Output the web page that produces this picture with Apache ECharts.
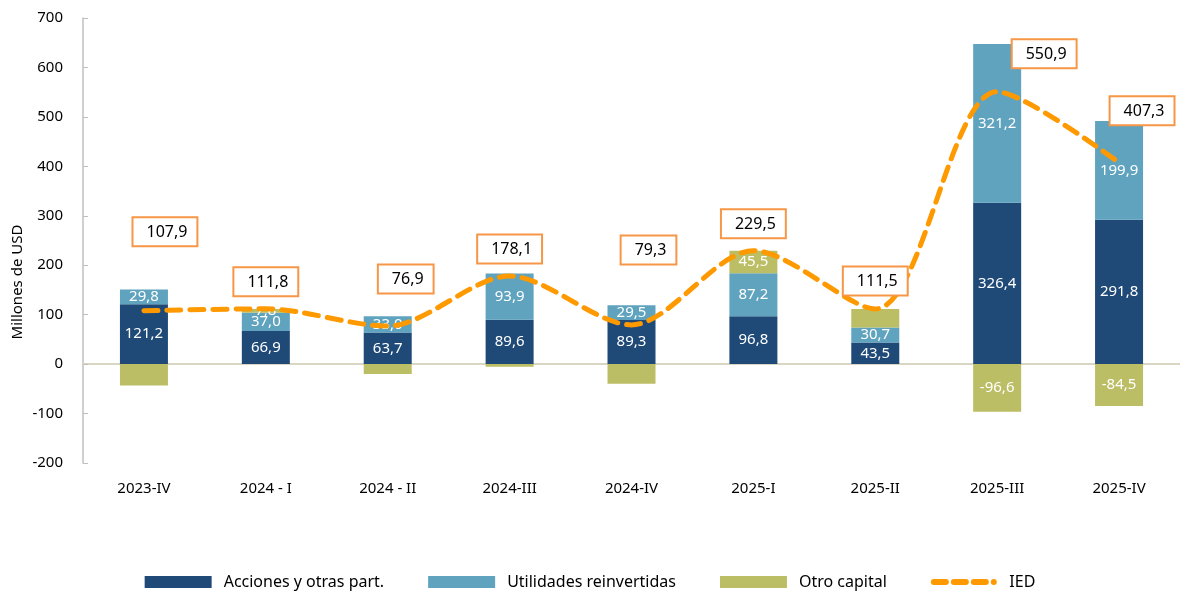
<!DOCTYPE html>
<html>
<head>
<meta charset="utf-8">
<script src="https://cdn.jsdelivr.net/npm/echarts@6/dist/echarts.min.js"></script>
<style>
  html, body { margin: 0; padding: 0; background: #fff; }
  #chart { width: 1180px; height: 593px; }
</style>
</head>
<body>
<div id="chart"></div>
<script>
const categories = ['2023-IV', '2024 - I', '2024 - II', '2024-III', '2024-IV', '2025-I', '2025-II', '2025-III', '2025-IV']
const acciones = [121.2, 66.9, 63.7, 89.6, 89.3, 96.8, 43.5, 326.4, 291.8]
const utilidades = [29.8, 37.0, 33.0, 93.9, 29.5, 87.2, 30.7, 321.2, 199.9]
const otroCapital = [-43.1, 7.8, -19.8, -5.4, -39.5, 45.5, 37.3, -96.6, -84.5]
const ied = [107.9, 111.8, 76.9, 178.1, 79.3, 229.5, 111.5, 550.9, 407.3]

// which "Otro capital" segments carry a label in the original
const otroLabelShown = [1, 5, 7, 8]
// where the IED boxes sit relative to their points
const iedLabelOffsets = [[21, -60], [0, -8], [18, -28], [0, -8], [17, -56], [0, -8], [0, -9], [47, -19], [23, -33]]

const font = 'Noto Sans'
const fmt = v => v.toFixed(1).replace('.', ',')

// dashed legend icon for the IED line (three dashes and a dot)
const dashIcon = 'path://M0,0h0.01v0.01h-0.01Z M0,12h0.01v0.01h-0.01Z ' +
  'M3,3h12a3,3 0 0 1 0,6h-12a3,3 0 0 1 0,-6Z M23,3h12a3,3 0 0 1 0,6h-12a3,3 0 0 1 0,-6Z ' +
  'M43,3h12a3,3 0 0 1 0,6h-12a3,3 0 0 1 0,-6Z M63,3a3,3 0 0 1 0,6a3,3 0 0 1 0,-6Z'

const barLabel = {
  show: true,
  position: 'inside',
  color: '#fff',
  fontFamily: font,
  fontSize: 15,
  formatter: p => fmt(p.value)
}

const chart = echarts.init(document.getElementById('chart'))
chart.setOption({
  animation: false,
  grid: { left: 83, right: 0, top: 18, bottom: 130 },
  legend: {
    top: 574,
    left: 'center',
    padding: 0,
    itemWidth: 67,
    itemHeight: 12,
    itemGap: 44,
    textStyle: { fontFamily: font, fontSize: 16, color: '#000', padding: [0, 0, 0, 7] },
    data: [
      { name: 'Acciones y otras part.', icon: 'rect' },
      { name: 'Utilidades reinvertidas', icon: 'rect' },
      { name: 'Otro capital', icon: 'rect' },
      { name: 'IED', icon: dashIcon }
    ]
  },
  xAxis: [{
    type: 'category',
    data: categories,
    position: 'bottom',
    axisLine: { show: false, onZero: false },
    axisTick: { show: false },
    axisLabel: { fontFamily: font, fontSize: 15, color: '#000', margin: 18 }
  }, {
    type: 'category',
    data: categories,
    position: 'bottom',
    axisLine: { onZero: true, lineStyle: { color: '#d9d6c3', width: 2 } },
    axisTick: { inside: true, length: 5, lineStyle: { color: '#d9d6c3', width: 2 } },
    axisLabel: { show: false }
  }],
  yAxis: {
    type: 'value',
    min: -200,
    max: 700,
    interval: 100,
    splitLine: { show: false },
    axisLine: { show: true, lineStyle: { color: '#bfbfbf', width: 1.5 } },
    axisTick: { show: true, inside: true, length: 5, lineStyle: { color: '#bfbfbf' } },
    axisLabel: { fontFamily: font, fontSize: 15, color: '#000', margin: 20 }
  },
  graphic: [{
    type: 'text',
    x: 18,
    y: 282,
    rotation: Math.PI / 2,
    style: {
      text: 'Millones de USD',
      fontFamily: font,
      fontSize: 15,
      fill: '#000',
      align: 'center',
      verticalAlign: 'middle'
    }
  }],
  series: [{
    name: 'Acciones y otras part.',
    type: 'bar',
    stack: 'ied',
    barWidth: 48,
    itemStyle: { color: '#1f4a78' },
    label: barLabel,
    data: acciones
  }, {
    name: 'Utilidades reinvertidas',
    type: 'bar',
    stack: 'ied',
    barWidth: 48,
    itemStyle: { color: '#5fa3bf' },
    label: barLabel,
    data: utilidades
  }, {
    name: 'Otro capital',
    type: 'bar',
    stack: 'ied',
    barWidth: 48,
    itemStyle: { color: '#bcbe65' },
    label: barLabel,
    data: otroCapital.map((v, i) => ({ value: v, label: { show: otroLabelShown.includes(i) } }))
  }, {
    name: 'IED',
    type: 'line',
    smooth: 0.3,
    symbol: 'none',
    z: 5,
    itemStyle: { color: '#ff9900' },
    lineStyle: { color: '#ff9900', width: 5, type: [14, 9], cap: 'round' },
    data: ied
  }, {
    // boxed IED values
    name: 'IED etiquetas',
    type: 'scatter',
    symbolSize: 1,
    z: 6,
    itemStyle: { color: 'rgba(0,0,0,0)', opacity: 1 },
    label: {
      show: true,
      position: 'top',
      distance: 5,
      color: '#000',
      fontFamily: font,
      fontSize: 16,
      backgroundColor: '#fff',
      borderColor: '#f79646',
      borderWidth: 2,
      padding: [6, 9, 5, 13],
      formatter: p => fmt(p.value)
    },
    labelLayout: p => ({
      dx: iedLabelOffsets[p.dataIndex][0],
      dy: iedLabelOffsets[p.dataIndex][1],
      hideOverlap: false
    }),
    data: ied
  }]
})
</script>
</body>
</html>
